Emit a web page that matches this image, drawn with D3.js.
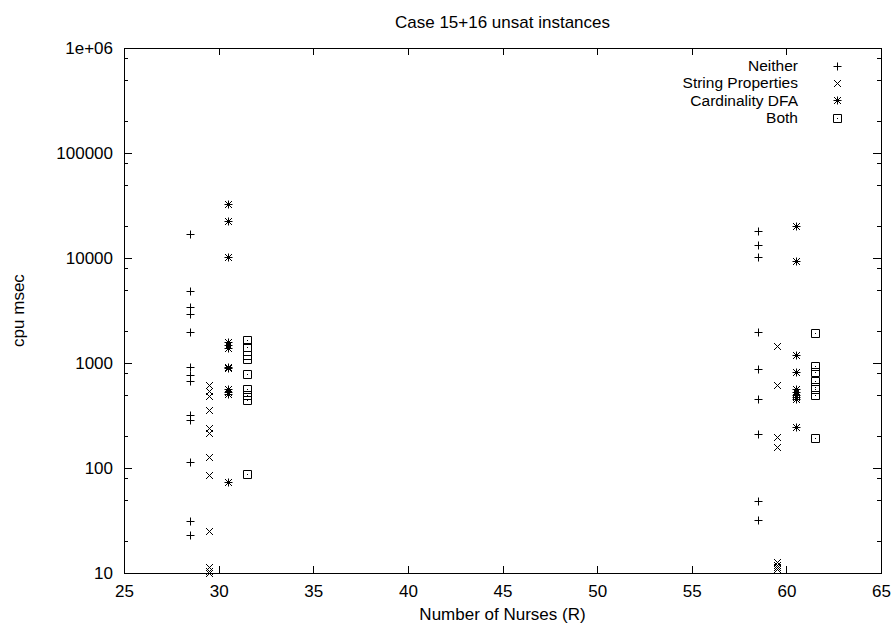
<!DOCTYPE html>
<html>
<head>
<meta charset="utf-8">
<script src="https://cdn.jsdelivr.net/npm/d3@7"></script>
<style>
  html, body { margin: 0; padding: 0; background: #fff; }
  svg { display: block; font-family: "Liberation Sans", Arial, Helvetica, sans-serif; }
</style>
</head>
<body>
<svg id="chart" width="893" height="625"></svg>
<script>
// ---- data ----
const titleText = "Case 15+16 unsat instances";
const xLabel = "Number of Nurses (R)";
const yLabel = "cpu msec";
const xTicks = [25, 30, 35, 40, 45, 50, 55, 60, 65];
const yTicks = [10, 100, 1000, 10000, 100000, 1000000];
const yMinorFactors = [2, 5, 8];
const seriesNames = ["Neither", "String Properties", "Cardinality DFA", "Both"];
const seriesSymbols = ["plus", "cross", "star", "box"];

// x positions of each series' two columns
const neitherX = [28.5, 58.5];
const stringX = [29.5, 59.5];
const cardX = [30.5, 60.5];
const bothX = [31.5, 61.5];

// cpu msec values per column
const neitherLeft = [16950, 4900, 3400, 2900, 1970, 910, 770, 670, 318, 285, 114, 31.4, 23];
const neitherRight = [18200, 13300, 10200, 1970, 880, 450, 213, 49, 32];
const stringLeft = [620, 540, 480, 354, 239, 214, 128, 85.5, 25.2, 11.5, 10.5, 10.05];
const stringRight = [1450, 622, 198, 159, 12.8, 12, 11.5, 11];
const cardLeft = [33000, 22500, 10200, 1600, 1500, 1400, 920, 890, 560, 530, 510, 74];
const cardRight = [20000, 9300, 1190, 820, 560, 530, 500, 470, 450, 246];
const bothLeft = [1640, 1420, 1180, 1100, 790, 570, 500, 440, 87];
const bothRight = [1940, 940, 820, 680, 590, 560, 500, 191];

// ---- chart ----
const W = 893, H = 625;
const mg = { left: 124, right: 12, top: 48, bottom: 52 };
const svg = d3.select("#chart");
const FS = 17;
const LFS = 15.5;

const xs = d3.scaleLinear().domain([25, 65]).range([mg.left, W - mg.right]);
const ys = d3.scaleLog().domain([10, 1e6]).range([H - mg.bottom, mg.top]);

const g = svg.append("g");

function yFmt(v) { return v >= 1e6 ? "1e+06" : d3.format("d")(v); }

// axes
g.append("g").attr("transform", `translate(0,${H - mg.bottom})`)
  .call(d3.axisBottom(xs).tickValues(xTicks).tickFormat(d3.format("d")).tickSizeInner(-7).tickSizeOuter(0).tickPadding(12));
g.append("g").attr("transform", `translate(0,${mg.top})`)
  .call(d3.axisTop(xs).tickValues(xTicks).tickFormat("").tickSizeInner(-7).tickSizeOuter(0));
g.append("g").attr("transform", `translate(${mg.left},0)`)
  .call(d3.axisLeft(ys).tickValues(yTicks).tickFormat(yFmt).tickSizeInner(-8).tickSizeOuter(0).tickPadding(11));
g.append("g").attr("transform", `translate(${W - mg.right},0)`)
  .call(d3.axisRight(ys).tickValues(yTicks).tickFormat("").tickSizeInner(-8).tickSizeOuter(0));

// minor ticks
const minor = [];
for (let e = 1; e < 6; e++) yMinorFactors.forEach(f => minor.push(f * Math.pow(10, e)));
g.append("g").attr("transform", `translate(${mg.left},0)`)
  .call(d3.axisLeft(ys).tickValues(minor).tickFormat("").tickSizeInner(-4).tickSizeOuter(0));
g.append("g").attr("transform", `translate(${W - mg.right},0)`)
  .call(d3.axisRight(ys).tickValues(minor).tickFormat("").tickSizeInner(-4).tickSizeOuter(0));

g.selectAll(".domain").remove();
g.selectAll(".tick line").attr("stroke", "#000").attr("shape-rendering", "crispEdges");
g.selectAll(".tick text").attr("font-size", FS).attr("fill", "#000")
  .attr("font-family", "'Liberation Sans', Arial, sans-serif");

// frame
g.append("rect")
  .attr("x", mg.left + 0.5).attr("y", mg.top + 0.5)
  .attr("width", W - mg.right - mg.left).attr("height", H - mg.bottom - mg.top)
  .attr("fill", "none").attr("stroke", "#000").attr("stroke-width", 1)
  .attr("shape-rendering", "crispEdges");

// symbols
function symbolPath(type) {
  const a = 4, b = 3.5;
  const plus = `M${-a},0H${a}M0,${-a}V${a}`;
  const cross = `M${-b},${-b}L${b},${b}M${-b},${b}L${b},${-b}`;
  if (type === "plus") return plus;
  if (type === "cross") return cross;
  if (type === "star") return plus + cross;
  return `M-4,-4H4V4H-4Z`;
}
function drawSymbol(sel, type, cx, cy) {
  const px = Math.round(cx) + 0.5, py = Math.round(cy) + 0.5;
  const gg = sel.append("g").attr("transform", `translate(${px},${py})`);
  gg.append("path").attr("d", symbolPath(type)).attr("fill", "none")
    .attr("stroke", "#000").attr("stroke-width", 1);
  if (type === "box") {
    gg.append("rect").attr("x", -0.5).attr("y", -0.5).attr("width", 1).attr("height", 1).attr("fill", "#000");
  }
}

const series = [
  { type: "plus", cols: [[neitherX[0], neitherLeft], [neitherX[1], neitherRight]] },
  { type: "cross", cols: [[stringX[0], stringLeft], [stringX[1], stringRight]] },
  { type: "star", cols: [[cardX[0], cardLeft], [cardX[1], cardRight]] },
  { type: "box", cols: [[bothX[0], bothLeft], [bothX[1], bothRight]] }
];
const pts = g.append("g");
series.forEach(s => {
  s.cols.forEach(([xv, vals]) => {
    vals.forEach(v => drawSymbol(pts, s.type, xs(xv), ys(v)));
  });
});

// legend
const legend = g.append("g");
seriesNames.forEach((name, i) => {
  const cy = 65.5 + i * 17.4;
  legend.append("text").attr("x", 798).attr("y", cy).attr("dy", "0.35em")
    .attr("text-anchor", "end").attr("font-size", LFS).attr("fill", "#000").text(name);
  drawSymbol(legend, seriesSymbols[i], 837, cy);
});

// title & labels
svg.append("text").attr("x", (mg.left + W - mg.right) / 2).attr("y", 28)
  .attr("text-anchor", "middle").attr("font-size", FS).text(titleText);
svg.append("text").attr("x", (mg.left + W - mg.right) / 2).attr("y", 620)
  .attr("text-anchor", "middle").attr("font-size", FS).text(xLabel);
svg.append("text").attr("transform", `translate(24,${(mg.top + H - mg.bottom) / 2}) rotate(-90)`)
  .attr("text-anchor", "middle").attr("font-size", FS).text(yLabel);
</script>
</body>
</html>
